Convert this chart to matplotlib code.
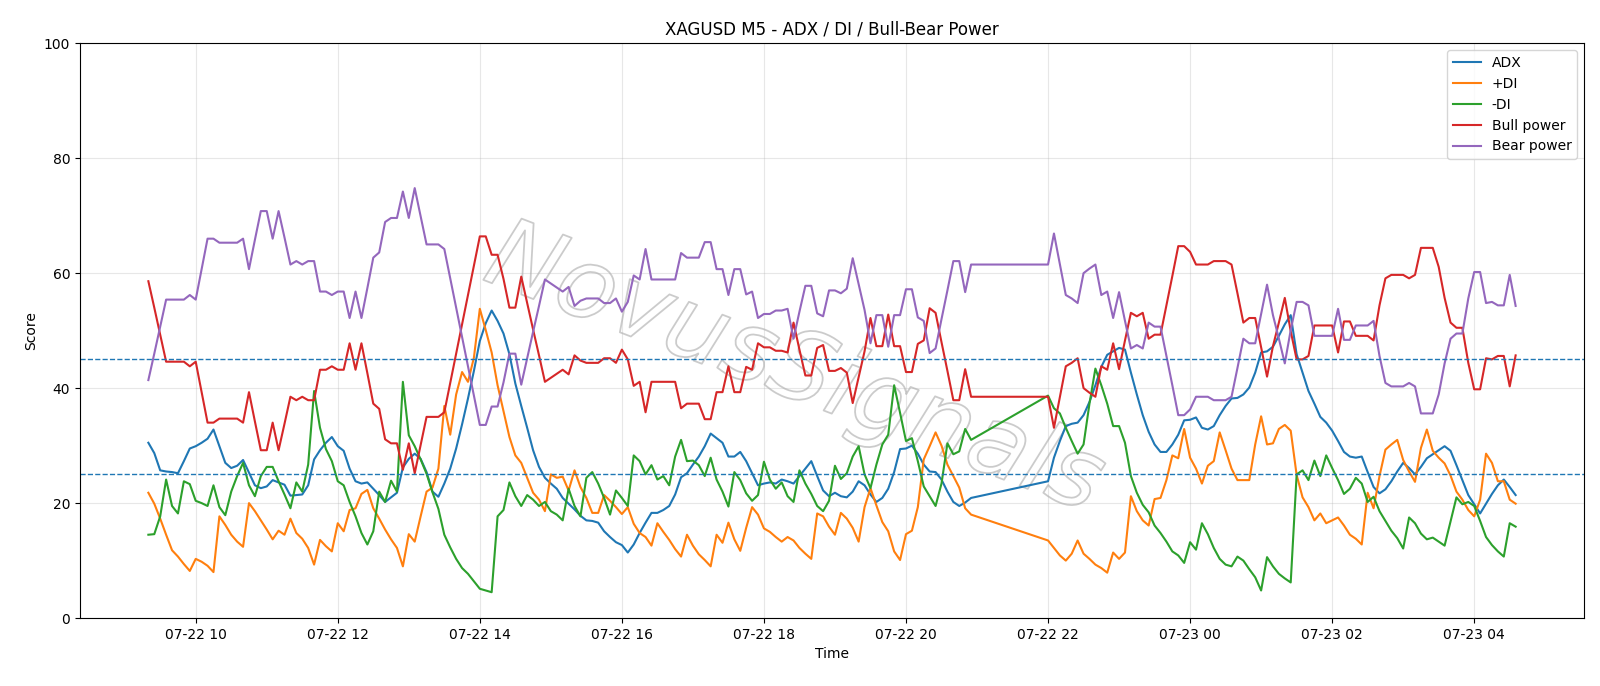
import matplotlib
matplotlib.use("Agg")
import matplotlib.pyplot as plt
import matplotlib.dates as mdates
import matplotlib.patheffects as pe
import numpy as np
import pandas as pd

# ---- time axis: two sessions of M5 bars (break 21:00-22:00) ----
session1_start = "2025-07-22 09:20"
session1_count = 140
session2_start = "2025-07-22 22:00"
session2_count = 80

adx = [
    30.5, 28.7, 25.7, 25.5, 25.4, 25.2, 27.3, 29.5, 29.9, 30.5, 31.2, 32.8,
    29.9, 27.0, 26.1, 26.5, 27.5, 25.3, 23.1, 22.6, 22.9, 24.0, 23.6, 23.2,
    21.3, 21.4, 21.5, 23.1, 27.6, 29.2, 30.5, 31.5, 29.9, 29.1, 26.0, 23.8,
    23.4, 23.6, 22.5, 21.4, 20.2, 21.0, 21.8, 26.2, 27.7, 28.6, 27.7, 25.4,
    22.0, 21.1, 23.4, 26.0, 29.5, 33.7, 38.2, 43.0, 48.2, 51.3, 53.5, 51.7,
    49.5, 45.9, 40.8, 36.9, 33.1, 29.2, 26.3, 24.4, 23.4, 22.5, 20.9, 19.9,
    18.9, 17.8, 17.0, 16.9, 16.6, 15.1, 14.1, 13.2, 12.7, 11.4, 12.8, 14.8,
    16.6, 18.3, 18.3, 18.8, 19.5, 21.5, 24.5, 25.2, 26.7, 28.1, 29.9, 32.1,
    31.3, 30.5, 28.1, 28.1, 28.9, 27.3, 25.2, 23.1, 23.4, 23.6, 23.4, 24.1,
    23.8, 23.4, 24.7, 26.0, 27.3, 24.7, 22.2, 21.2, 21.8, 21.2, 21.0, 22.0,
    23.8, 23.1, 21.5, 20.2, 20.9, 22.5, 25.4, 29.4, 29.5, 30.0, 28.6, 26.7,
    25.5, 25.4, 24.1, 22.0, 20.2, 19.5, 20.1, 20.9,
    # session 2
    23.8, 27.9, 30.8, 33.4, 33.8, 34.0, 35.3, 37.6, 40.5, 43.7, 45.8, 46.4,
    47.0, 46.7, 42.7, 38.9, 35.3, 32.4, 30.2, 28.9, 28.9, 30.2, 31.9, 34.4,
    34.5, 34.9, 33.1, 32.8, 33.4, 35.3, 36.9, 38.2, 38.3, 38.9, 40.1, 42.7,
    46.2, 46.4, 47.2, 49.1, 51.1, 52.7, 45.9, 42.7, 39.5, 37.3, 35.0, 34.0,
    32.6, 30.8, 28.9, 28.1, 27.9, 28.1, 25.4, 22.8, 21.7, 22.4, 23.8, 25.5,
    27.0, 26.1, 25.0, 26.3, 27.8, 28.5, 29.2, 29.9, 29.1, 26.6, 24.0, 21.4,
    19.8, 18.2, 19.9, 21.6, 23.1, 24.1, 22.8, 21.4,
]

plus_di = [
    21.8, 19.9, 17.3, 14.5, 11.8, 10.7, 9.4, 8.2, 10.3, 9.8, 9.1, 8.0,
    17.7, 16.2, 14.5, 13.3, 12.4, 20.0, 18.6, 17.0, 15.4, 13.7, 15.2, 14.5,
    17.3, 14.8, 13.8, 12.2, 9.3, 13.6, 12.5, 11.6, 16.5, 15.1, 18.8, 19.1,
    21.6, 22.3, 19.1, 17.3, 15.4, 13.7, 12.2, 9.0, 14.6, 13.3, 17.7, 22.0,
    22.7, 26.0, 36.9, 31.9, 38.9, 42.8, 41.1, 45.3, 53.8, 50.1, 46.2, 40.5,
    36.0, 31.5, 28.3, 27.0, 24.4, 21.8, 20.6, 18.6, 25.0, 24.4, 24.6, 22.2,
    25.7, 22.8, 20.9, 18.3, 18.3, 21.4, 20.4, 19.3, 18.1, 19.3, 16.4, 14.8,
    14.1, 12.6, 16.5, 15.0, 13.6, 12.0, 10.7, 14.5, 12.6, 11.1, 10.1, 9.0,
    14.5, 13.1, 16.6, 13.7, 11.7, 15.7, 19.3, 18.0, 15.6, 15.0, 14.1, 13.3,
    14.1, 13.5, 12.2, 11.2, 10.3, 18.2, 17.7, 15.9, 14.5, 18.3, 17.3, 15.7,
    13.3, 19.3, 22.6, 19.6, 16.7, 15.1, 11.6, 10.1, 14.6, 15.2, 19.3, 27.6,
    29.9, 32.3, 30.0, 26.7, 24.7, 22.7, 19.1, 18.0,
    # session 2
    13.5, 12.2, 10.9, 10.0, 11.2, 13.5, 11.2, 10.3, 9.3, 8.7, 7.9, 11.4,
    10.3, 11.4, 21.2, 18.6, 17.0, 16.1, 20.7, 20.9, 24.0, 28.3, 27.8, 32.9,
    27.9, 26.0, 23.4, 26.5, 27.3, 32.3, 29.2, 26.0, 24.0, 24.0, 24.0, 30.2,
    35.1, 30.2, 30.4, 32.9, 33.6, 32.6, 24.9, 21.0, 19.3, 17.0, 18.2, 16.5,
    17.0, 17.5, 16.1, 14.5, 13.8, 12.8, 21.8, 19.1, 24.7, 29.3, 30.2, 31.0,
    27.5, 25.5, 23.7, 29.6, 32.8, 29.1, 27.9, 26.9, 24.8, 22.0, 20.6, 18.8,
    17.7, 20.6, 28.6, 27.0, 23.8, 23.8, 20.6, 19.9,
]

minus_di = [
    14.5, 14.6, 17.7, 24.1, 19.5, 18.2, 23.8, 23.3, 20.4, 20.0, 19.5, 23.1,
    19.3, 17.9, 22.0, 24.7, 27.0, 23.1, 21.2, 24.7, 26.3, 26.3, 23.8, 21.5,
    19.1, 23.6, 22.0, 26.7, 39.5, 33.1, 29.4, 27.3, 23.8, 23.1, 20.2, 17.7,
    14.8, 12.8, 15.1, 22.0, 20.2, 23.9, 22.0, 41.1, 31.8, 29.9, 27.6, 25.1,
    21.9, 19.0, 14.5, 12.3, 10.3, 8.7, 7.7, 6.4, 5.1, 4.8, 4.5, 17.7,
    18.8, 23.6, 21.2, 19.5, 21.4, 20.6, 19.5, 20.2, 18.6, 18.0, 17.0, 22.5,
    19.5, 17.7, 24.4, 25.4, 23.4, 20.9, 18.0, 22.2, 20.9, 19.5, 28.3, 27.3,
    25.0, 26.6, 24.1, 24.7, 23.1, 28.1, 31.0, 27.3, 27.4, 26.6, 24.7, 27.9,
    24.1, 22.0, 19.4, 25.4, 24.0, 21.7, 20.4, 21.4, 27.2, 24.1, 22.5, 23.6,
    21.2, 20.2, 25.7, 23.4, 21.6, 19.5, 18.6, 20.4, 26.5, 24.2, 25.2, 28.1,
    29.9, 25.0, 22.6, 26.7, 30.2, 31.9, 40.5, 35.7, 30.8, 31.3, 27.3, 22.9,
    21.2, 19.5, 23.4, 30.4, 28.5, 29.0, 32.9, 31.0,
    # session 2
    38.7, 36.5, 35.6, 33.1, 30.8, 28.6, 30.2, 37.3, 43.4, 40.5, 37.3, 33.4,
    33.4, 30.5, 24.7, 21.8, 19.7, 18.4, 16.1, 14.8, 13.3, 11.6, 10.9, 9.6,
    13.2, 11.9, 16.5, 14.6, 12.2, 10.3, 9.3, 9.0, 10.7, 10.0, 8.5, 7.1,
    4.8, 10.6, 9.0, 7.7, 6.9, 6.2, 25.0, 25.7, 24.0, 27.4, 24.7, 28.3,
    26.1, 24.0, 21.6, 22.5, 24.4, 23.4, 20.2, 21.1, 18.6, 16.9, 15.2, 13.9,
    12.1, 17.5, 16.5, 14.7, 13.7, 14.0, 13.3, 12.6, 16.8, 21.0, 19.8, 20.2,
    19.5, 16.9, 14.1, 12.7, 11.6, 10.7, 16.5, 15.9,
]

bull_power = [
    58.6, 54.0, 49.3, 44.6, 44.6, 44.6, 44.6, 43.8, 44.6, 39.3, 34.0, 34.0,
    34.7, 34.7, 34.7, 34.7, 34.0, 39.3, 34.2, 29.2, 29.2, 34.0, 29.2, 33.8,
    38.5, 37.9, 38.5, 37.9, 37.9, 43.2, 43.2, 43.8, 43.2, 43.2, 47.8, 43.2,
    47.8, 42.6, 37.3, 36.4, 31.1, 30.4, 30.4, 25.8, 30.4, 25.2, 30.1, 35.0,
    35.0, 35.0, 35.8, 40.9, 46.0, 51.1, 56.2, 61.3, 66.4, 66.4, 63.2, 63.2,
    59.0, 54.0, 54.0, 59.4, 54.8, 50.2, 45.7, 41.1, 41.8, 42.5, 43.2, 42.4,
    45.7, 44.8, 44.4, 44.4, 44.4, 45.2, 45.2, 44.4, 46.7, 45.0, 40.4, 41.1,
    35.8, 41.1, 41.1, 41.1, 41.1, 41.1, 36.5, 37.3, 37.3, 37.3, 34.6, 34.6,
    39.3, 39.3, 43.8, 39.3, 39.3, 43.7, 43.2, 47.8, 47.1, 47.1, 46.5, 46.5,
    46.2, 51.4, 46.7, 42.2, 42.2, 47.0, 47.5, 43.0, 43.0, 43.5, 42.7, 37.4,
    41.9, 46.4, 52.2, 47.3, 47.3, 52.8, 47.3, 47.3, 42.8, 42.8, 47.7, 48.3,
    53.9, 53.1, 48.0, 43.0, 37.9, 37.9, 43.3, 38.5,
    # session 2
    38.5, 33.1, 38.4, 43.8, 44.4, 45.2, 40.0, 39.2, 38.5, 43.8, 43.2, 47.8,
    43.3, 48.3, 53.1, 52.5, 53.1, 48.6, 49.3, 49.3, 54.4, 59.5, 64.7, 64.7,
    63.7, 61.5, 61.5, 61.5, 62.1, 62.1, 62.1, 61.5, 56.5, 51.4, 52.2, 52.2,
    47.1, 42.0, 47.3, 51.4, 55.7, 49.9, 45.0, 45.0, 45.6, 50.9, 50.9, 50.9,
    50.9, 46.2, 51.6, 51.6, 49.1, 49.1, 49.1, 48.3, 54.4, 59.1, 59.7, 59.7,
    59.7, 59.1, 59.7, 64.4, 64.4, 64.4, 61.1, 55.7, 51.4, 50.5, 50.5, 44.4,
    39.8, 39.8, 45.2, 45.0, 45.6, 45.6, 40.3, 45.7,
]

bear_power = [
    41.4, 46.0, 50.7, 55.4, 55.4, 55.4, 55.4, 56.2, 55.4, 60.7, 66.0, 66.0,
    65.3, 65.3, 65.3, 65.3, 66.0, 60.7, 65.8, 70.8, 70.8, 66.0, 70.8, 66.2,
    61.5, 62.1, 61.5, 62.1, 62.1, 56.8, 56.8, 56.2, 56.8, 56.8, 52.2, 56.8,
    52.2, 57.4, 62.7, 63.6, 68.9, 69.6, 69.6, 74.2, 69.6, 74.8, 69.9, 65.0,
    65.0, 65.0, 64.2, 59.1, 54.0, 48.9, 43.8, 38.7, 33.6, 33.6, 36.8, 36.8,
    41.0, 46.0, 46.0, 40.6, 45.2, 49.8, 54.3, 58.9, 58.2, 57.5, 56.8, 57.6,
    54.3, 55.2, 55.6, 55.6, 55.6, 54.8, 54.8, 55.6, 53.3, 55.0, 59.6, 58.9,
    64.2, 58.9, 58.9, 58.9, 58.9, 58.9, 63.5, 62.7, 62.7, 62.7, 65.4, 65.4,
    60.7, 60.7, 56.2, 60.7, 60.7, 56.3, 56.8, 52.2, 52.9, 52.9, 53.5, 53.5,
    53.8, 48.6, 53.3, 57.8, 57.8, 53.0, 52.5, 57.0, 57.0, 56.5, 57.3, 62.6,
    58.1, 53.6, 47.8, 52.7, 52.7, 47.2, 52.7, 52.7, 57.2, 57.2, 52.3, 51.7,
    46.1, 46.9, 52.0, 57.0, 62.1, 62.1, 56.7, 61.5,
    # session 2
    61.5, 66.9, 61.6, 56.2, 55.6, 54.8, 60.0, 60.8, 61.5, 56.2, 56.8, 52.2,
    56.7, 51.7, 46.9, 47.5, 46.9, 51.4, 50.7, 50.7, 45.6, 40.5, 35.3, 35.3,
    36.3, 38.5, 38.5, 38.5, 37.9, 37.9, 37.9, 38.5, 43.5, 48.6, 47.8, 47.8,
    52.9, 58.0, 52.7, 48.6, 44.3, 50.1, 55.0, 55.0, 54.4, 49.1, 49.1, 49.1,
    49.1, 53.8, 48.4, 48.4, 50.9, 50.9, 50.9, 51.7, 45.6, 40.9, 40.3, 40.3,
    40.3, 40.9, 40.3, 35.6, 35.6, 35.6, 38.9, 44.3, 48.6, 49.5, 49.5, 55.6,
    60.2, 60.2, 54.8, 55.0, 54.4, 54.4, 59.7, 54.3,
]

threshold_levels = [25, 45]
title_text = "XAGUSD M5 - ADX / DI / Bull-Bear Power"
watermark_text = "NovusSignals"

times = pd.date_range(session1_start, periods=session1_count, freq="5min").append(
    pd.date_range(session2_start, periods=session2_count, freq="5min"))

fig, ax = plt.subplots(figsize=(16, 6.86), dpi=100)
fig.subplots_adjust(left=0.05, right=0.99, top=0.937, bottom=0.099)

# watermark (outlined, light grey)
ax.text(0.475, 0.43, watermark_text, transform=ax.transAxes, fontsize=70,
        fontstyle="italic", rotation=-21, ha="center", va="center",
        color="none", zorder=0,
        path_effects=[pe.Stroke(linewidth=1.3, foreground=(0.6, 0.6, 0.6, 0.5))])

ax.plot(times, adx, label="ADX", color="#1f77b4", lw=1.5)
ax.plot(times, plus_di, label="+DI", color="#ff7f0e", lw=1.5)
ax.plot(times, minus_di, label="-DI", color="#2ca02c", lw=1.5)
ax.plot(times, bull_power, label="Bull power", color="#d62728", lw=1.5)
ax.plot(times, bear_power, label="Bear power", color="#9467bd", lw=1.5)

for lvl in threshold_levels:
    ax.axhline(lvl, color="#1f77b4", linestyle="--", lw=1.0)

ax.set_ylim(0, 100)
ax.xaxis.set_major_locator(mdates.HourLocator(byhour=range(0, 24, 2)))
ax.xaxis.set_major_formatter(mdates.DateFormatter("%m-%d %H"))
ax.grid(True, alpha=0.3)
ax.set_title(title_text)
ax.set_xlabel("Time")
ax.set_ylabel("Score")
ax.legend(loc="upper right")

fig.savefig("out.png", dpi=100)
